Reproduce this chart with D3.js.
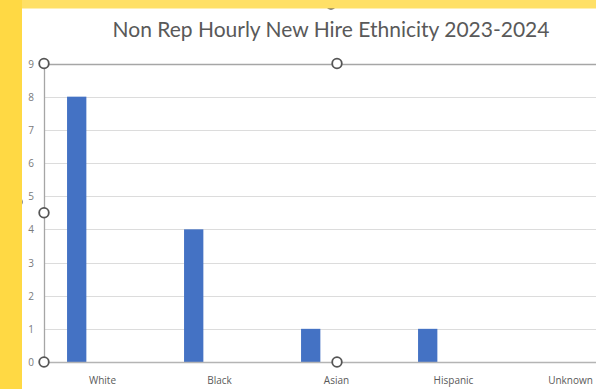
<!DOCTYPE html>
<html>
<head>
<meta charset="utf-8">
<script src="https://cdn.jsdelivr.net/npm/d3@7"></script>
<style>
  html, body { margin: 0; padding: 0; background: #ffffff; }
  svg { display: block; }
</style>
</head>
<body>
<svg id="chart" width="596" height="389"></svg>
<script>
// Chart data
const categories = ["White", "Black", "Asian", "Hispanic", "Unknown"];
const hires = [8, 4, 1, 1, 0];
const yTicks = [0, 1, 2, 3, 4, 5, 6, 7, 8, 9];
const titleText = "Non Rep Hourly New Hire Ethnicity 2023-2024";

const W = 596, H = 389;
const svg = d3.select("#chart");

// Plot area (the right part runs past the visible frame)
const plot = { left: 44, top: 63.5, bottom: 362, right: 629 };

const x = d3.scaleBand().domain(categories).range([plot.left, plot.right]);
const y = d3.scaleLinear().domain([0, 9]).range([plot.bottom, plot.top]);

// white chart sheet
svg.append("rect").attr("x", 0).attr("y", 0).attr("width", W).attr("height", H).attr("fill", "#ffffff");

// horizontal gridlines
const grid = svg.append("g");
grid.selectAll("line").data(yTicks.filter(t => t > 0 && t < 9)).join("line")
  .attr("x1", plot.left).attr("x2", W)
  .attr("y1", d => Math.round(y(d)) + 0.5).attr("y2", d => Math.round(y(d)) + 0.5)
  .attr("stroke", "#dcdcdc").attr("stroke-width", 1);

// bars
const bw = x.bandwidth();
svg.append("g").selectAll("rect").data(categories.map((c, i) => ({ c, v: hires[i] })).filter(d => d.v > 0))
  .join("rect")
  .attr("x", d => x(d.c) + bw * 0.197)
  .attr("width", bw * 0.165)
  .attr("y", d => y(d.v))
  .attr("height", d => y(0) - y(d.v))
  .attr("fill", "#4472C4");

// plot-area border lines (top, left) and the category axis
svg.append("line").attr("x1", plot.left).attr("x2", W)
  .attr("y1", Math.round(y(9)) + 0.5).attr("y2", Math.round(y(9)) + 0.5)
  .attr("stroke", "#a6a6a6").attr("stroke-width", 1.3);
svg.append("line").attr("x1", plot.left).attr("x2", W)
  .attr("y1", Math.round(y(0)) + 0.5).attr("y2", Math.round(y(0)) + 0.5)
  .attr("stroke", "#b4b4b4").attr("stroke-width", 1.3);
svg.append("line").attr("x1", plot.left + 0.5).attr("x2", plot.left + 0.5)
  .attr("y1", y(9)).attr("y2", y(0))
  .attr("stroke", "#a6a6a6").attr("stroke-width", 1.3);

// value axis labels
const yAxis = d3.axisLeft(y).tickValues(yTicks).tickSize(0).tickPadding(0).tickFormat(d3.format("d"));
const gy = svg.append("g").attr("transform", `translate(${plot.left - 10},0)`).call(yAxis);
gy.select(".domain").remove();
gy.selectAll("text")
  .attr("font-family", "'Open Sans', sans-serif").attr("font-size", 10)
  .attr("fill", "#7a7a7a").attr("dy", "0.35em");

// category labels
const xAxis = d3.axisBottom(x).tickSize(0).tickPadding(0);
const gx = svg.append("g").attr("transform", `translate(0,${plot.bottom + 21.5})`).call(xAxis);
gx.select(".domain").remove();
gx.selectAll("text")
  .attr("font-family", "'Open Sans', sans-serif").attr("font-size", 10)
  .attr("fill", "#595959").attr("dy", 0);

// title
svg.append("text")
  .attr("x", 331).attr("y", 37)
  .attr("text-anchor", "middle")
  .attr("font-family", "Lato, 'Open Sans', sans-serif")
  .attr("font-size", 21)
  .attr("fill", "#595959")
  .text(titleText);

// selection handles
const handles = [
  [plot.left, y(9)], [337, y(9)],
  [plot.left, y(4.5)],
  [plot.left, y(0)], [337, y(0)],
  [331, 4], [17, 202]
];
svg.append("g").selectAll("circle").data(handles).join("circle")
  .attr("cx", d => d[0]).attr("cy", d => d[1]).attr("r", 4.8)
  .attr("fill", "#ffffff").attr("stroke", "#555555").attr("stroke-width", 1.8);

// surrounding yellow frame
svg.append("rect").attr("x", 0).attr("y", 0).attr("width", W).attr("height", 8.5).attr("fill", "#FFE066");
svg.append("rect").attr("x", 0).attr("y", 0).attr("width", 22).attr("height", H).attr("fill", "#FFD944");
</script>
</body>
</html>
